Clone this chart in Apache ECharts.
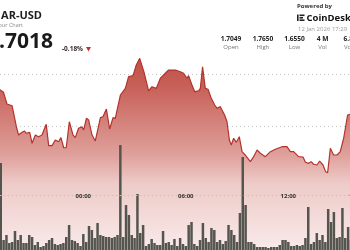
<!DOCTYPE html>
<html><head><meta charset="utf-8">
<script src="https://cdn.jsdelivr.net/npm/echarts@6/dist/echarts.min.js"></script>
<style>html,body{margin:0;padding:0;background:#fff;overflow:hidden}#c{width:350px;height:250px}</style>
</head><body><div id="c"></div>
<script>
// price line: hours relative to 00:00 (12 Jan), price in USD
const lineHours = [-5.00,-4.86,-4.67,-4.47,-4.17,-3.92,-3.79,-3.59,-3.45,-3.34,
  -3.14,-3.00,-2.81,-2.62,-2.42,-2.17,-2.03,-1.83,-1.64,-1.45,
  -1.31,-1.15,-1.00,-0.82,-0.60,-0.47,-0.28,-0.08,0.02,0.18,
  0.31,0.51,0.70,1.00,1.15,1.35,1.54,1.74,1.87,2.17,
  2.46,2.65,2.91,3.10,3.30,3.57,3.82,4.02,4.27,4.51,
  4.80,4.99,5.39,5.68,5.87,6.07,6.16,6.36,6.52,6.75,
  6.85,6.98,7.14,7.30,7.49,7.69,7.83,8.02,8.27,8.41,
  8.55,8.66,8.80,8.96,9.13,9.29,9.48,9.78,9.97,10.17,
  10.36,10.65,10.95,11.24,11.63,11.92,12.12,12.31,12.60,12.86,
  13.00,13.19,13.33,13.48,13.68,13.83,14.03,14.18,14.30,14.46,
  14.65,14.85,15.04,15.24,15.47,15.63,15.81];
const linePrices = [1.7356,1.7346,1.7324,1.7212,1.7195,1.6993,1.6913,1.6939,1.6952,1.6930,
  1.6939,1.6834,1.6913,1.6897,1.6913,1.7016,1.6811,1.6811,1.6865,1.6849,
  1.6888,1.6791,1.6791,1.7041,1.6913,1.6888,1.6978,1.6993,1.6962,1.7074,
  1.7058,1.6913,1.6856,1.7080,1.7089,1.7163,1.6971,1.7080,1.7074,1.7298,
  1.7362,1.7474,1.7484,1.7587,1.7650,1.7507,1.7337,1.7378,1.7362,1.7459,
  1.7507,1.7538,1.7538,1.7522,1.7507,1.7459,1.7484,1.7394,1.7330,1.7337,
  1.7362,1.7570,1.7362,1.7353,1.7266,1.7202,1.7170,1.7186,1.7106,1.7041,
  1.6865,1.6817,1.6882,1.6843,1.6897,1.6753,1.6721,1.6657,1.6705,1.6769,
  1.6738,1.6705,1.6753,1.6776,1.6801,1.6801,1.6753,1.6753,1.6705,1.6702,
  1.6651,1.6641,1.6657,1.6632,1.6625,1.6663,1.6625,1.6561,1.6550,1.6786,
  1.6721,1.6721,1.6753,1.6882,1.7106,1.7113,1.7115];
// volume: 10-minute slots, first slot index relative to 00:00, values in thousands
const volFirstSlot = -29;
const slotsPerHour = 6;
const volumes = [174,20,30,14,16,38,20,30,14,14, 30,26,10,16,6,8,14,20,24,12,
  10,12,14,26,50,20,18,14,8,32, 16,48,40,24,54,30,28,26,26,24,
  26,30,210,26,90,70,30,24,112,34, 50,8,12,22,14,10,10,38,14,16,
  10,22,8,24,12,8,50,56,12,8, 20,54,24,16,44,40,16,20,12,18,
  50,40,30,16,74,186,90,16,16,12, 6,6,6,6,4,6,6,6,10,20,
  20,16,8,8,10,8,10,24,86,12, 16,34,20,30,16,82,56,76,24,26,
  84,24,46,20];
const tickHours = [0, 6, 12, 16];
const tickLabels = ['00:00', '06:00', '12:00', '16:00'];
const axisStart = -6.5167, axisEnd = 17.4833;
const priceMin = 1.55, priceMax = 1.80, priceStep = 0.05;
const shownGridPrices = [1.70, 1.75];
const volMax = 220;
const stats = [['1.7049','Open'],['1.7650','High'],['1.6550','Low'],['4 M','Vol'],['6.8 M','Vol ($)']];

const priceData = lineHours.map((h, i) => [h, linePrices[i]]);
const volData = volumes.map((v, i) => [(volFirstSlot + i) / slotsPerHour, v]);
const splitColors = [];
for (let p = priceMin; p <= priceMax + 1e-9; p += priceStep) {
  splitColors.push(shownGridPrices.some(g => Math.abs(g - p) < 1e-6) ? '#c4c4c4' : 'rgba(0,0,0,0)');
}

const chart = echarts.init(document.getElementById('c'), null, {renderer: 'canvas'});
const G = {left: -28, width: 410, outerBoundsMode: 'none', containLabel: false};
const F = '"Open Sans", "Liberation Sans", sans-serif';
function txt(text, x, y, font, fill, align) {
  return {type: 'text', x: x, y: y, z: 100, silent: true,
    style: {text: text, font: font, fill: fill, align: align || 'left', textAlign: align || 'left',
      verticalAlign: 'middle', textVerticalAlign: 'middle'}};
}
const statX = [231, 263, 294.5, 322.5, 343.5];
const graphics = [
  txt('AR-USD', 42, 15.5, 'bold 11px ' + F, '#1d1d1d', 'right'),
  txt('24 Hour Chart', 23, 25, '5.5px ' + F, '#888', 'right'),
  txt('1.7018', 53, 42, 'bold 21px ' + F, '#1a1a1a', 'right'),
  txt('-0.18%', 62, 49, 'bold 6.5px ' + F, '#3a2a2a', 'left'),
  {type: 'polygon', z: 100, silent: true, shape: {points: [[86, 47], [91, 47], [88.5, 51.5]]}, style: {fill: '#c0342c'}},
  txt('Powered by', 297, 6.5, 'bold 6px ' + F, '#333', 'left'),
  {type: 'rect', z: 100, silent: true, shape: {x: 297, y: 14.5, width: 1.6, height: 6.5}, style: {fill: '#222'}},
  {type: 'rect', z: 100, silent: true, shape: {x: 299.5, y: 14.5, width: 5, height: 1.6}, style: {fill: '#222'}},
  {type: 'rect', z: 100, silent: true, shape: {x: 299.5, y: 17, width: 3.5, height: 1.6}, style: {fill: '#222'}},
  {type: 'rect', z: 100, silent: true, shape: {x: 299.5, y: 19.4, width: 5, height: 1.6}, style: {fill: '#222'}},
  txt('CoinDesk Indices', 306.5, 17.8, 'bold 9.5px ' + F, '#111', 'left'),
  txt('12 Jan 2026 17:29', 298, 29.5, '6px ' + F, '#999', 'left')
];
stats.forEach((s, i) => {
  const last = i === stats.length - 1;
  const al = last ? 'left' : 'center';
  graphics.push(txt(s[0], statX[i], 39, 'bold 6.6px ' + F, '#222', al));
  graphics.push(txt(s[1], statX[i] + (last ? 0.5 : 0), 47.5, '6px ' + F, '#777', al));
});

chart.setOption({
  animation: false,
  backgroundColor: '#fff',
  grid: [
    Object.assign({top: 22, height: 260}, G),
    Object.assign({bottom: 0, height: 110}, G),
    Object.assign({top: 0, height: 195}, G)
  ],
  xAxis: [
    {type: 'value', gridIndex: 0, min: axisStart, max: axisEnd, show: false},
    {type: 'value', gridIndex: 1, min: axisStart, max: axisEnd, show: false},
    {type: 'value', gridIndex: 2, min: axisStart, max: axisEnd, z: 10,
      axisLine: {show: true, lineStyle: {color: '#c4c4c4', type: [1, 3], width: 1}},
      axisTick: {show: false}, splitLine: {show: false},
      axisLabel: {show: true, customValues: tickHours, margin: 1, verticalAlign: 'middle',
        fontSize: 6, fontWeight: 'bold', color: '#333', fontFamily: 'Open Sans',
        formatter: v => tickLabels[tickHours.indexOf(v)] || ''}}
  ],
  yAxis: [
    {type: 'value', gridIndex: 0, min: priceMin, max: priceMax, interval: priceStep,
      axisLine: {show: false}, axisTick: {show: false}, axisLabel: {show: false},
      splitLine: {show: true, lineStyle: {color: splitColors, type: [1, 3], width: 1}}},
    {type: 'value', gridIndex: 1, min: 0, max: volMax, show: false, splitLine: {show: false}},
    {type: 'value', gridIndex: 2, min: 0, max: 1, show: false, splitLine: {show: false}}
  ],
  graphic: graphics,
  series: [
    {type: 'line', z: 2, xAxisIndex: 0, yAxisIndex: 0, data: priceData, showSymbol: false, symbol: 'none',
      lineStyle: {color: '#b3332c', width: 1.2},
      areaStyle: {opacity: 1, color: new echarts.graphic.LinearGradient(0, 0, 0, 1, [
        {offset: 0, color: 'rgb(192,80,72)'},
        {offset: 0.134, color: 'rgb(200,98,90)'},
        {offset: 0.43, color: 'rgb(223,160,155)'},
        {offset: 0.56, color: 'rgb(237,203,200)'},
        {offset: 0.857, color: 'rgb(249,234,234)'},
        {offset: 1, color: 'rgb(251,240,240)'}
      ])}},
    {type: 'bar', z: 4, xAxisIndex: 1, yAxisIndex: 1, data: volData, barWidth: 2.5,
      itemStyle: {color: '#55554f'}}
  ]
});
</script></body></html>
